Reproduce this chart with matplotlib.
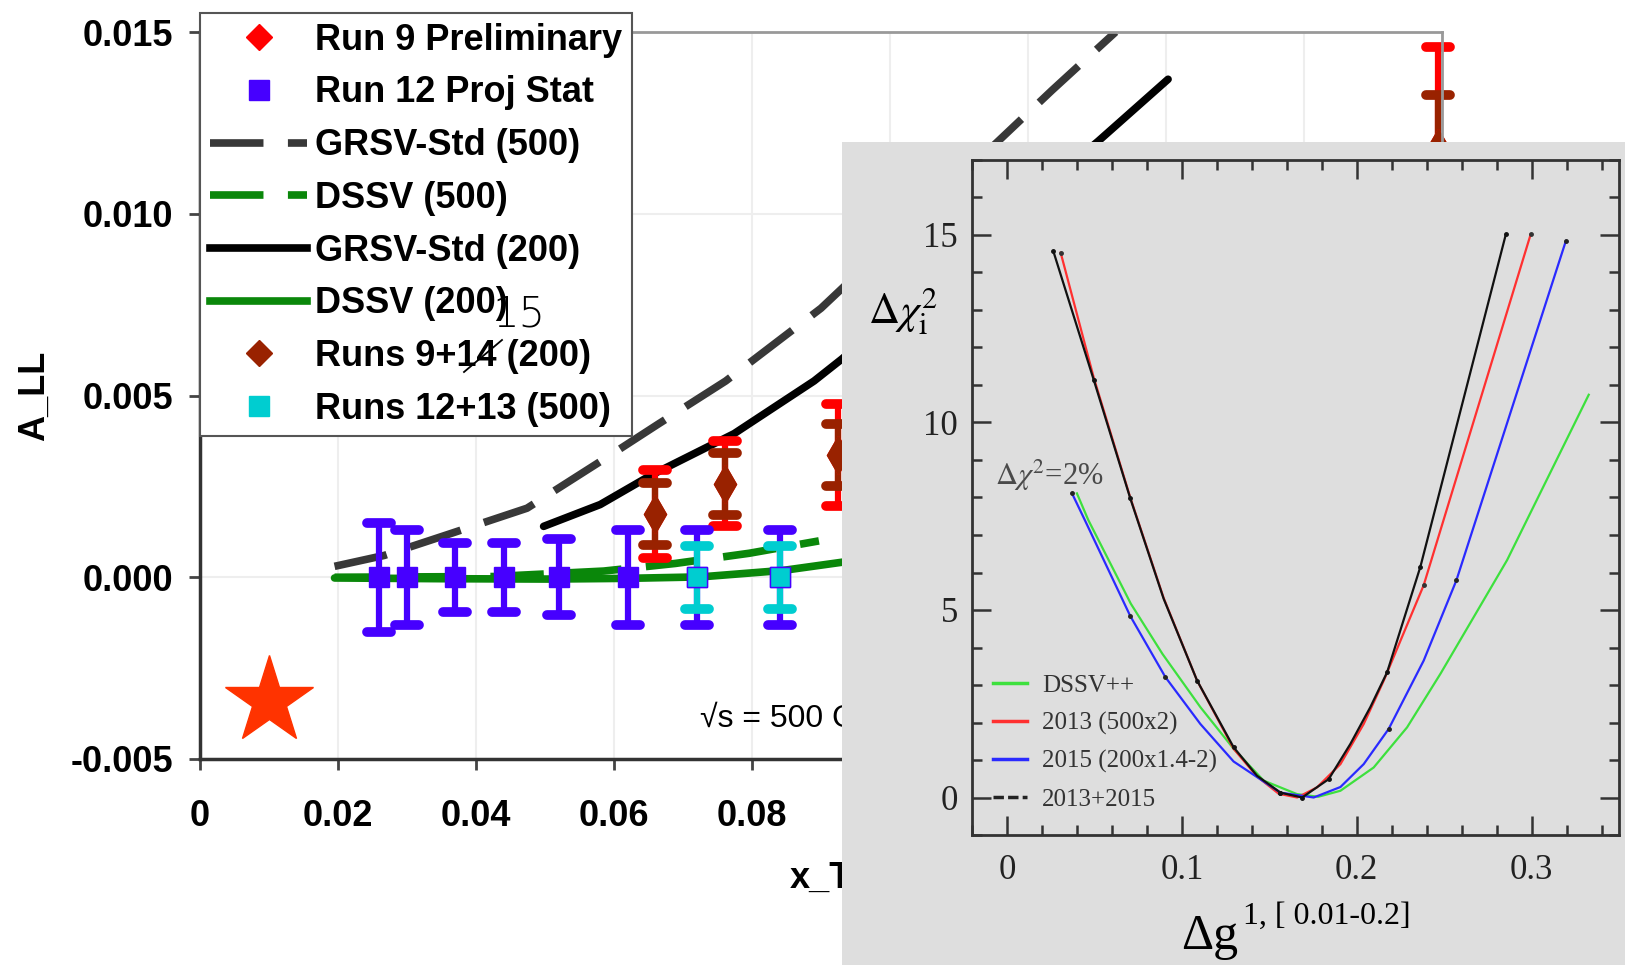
import matplotlib.pyplot as plt
from matplotlib.lines import Line2D
from matplotlib.markers import MarkerStyle
from matplotlib.patches import Rectangle
from matplotlib.ticker import MultipleLocator

plt.rcParams['axes.unicode_minus'] = False
plt.rcParams['mathtext.fontset'] = 'stix'

# ---- main panel: A_LL vs x_T ----
run12_x = [0.026, 0.030, 0.037, 0.044, 0.052, 0.062, 0.072, 0.084]
run12_y = [0, 0, 0, 0, 0, 0, 0, 0]
run12_err = [0.0015, 0.0013, 0.00095, 0.00095, 0.00105, 0.0013, 0.0013, 0.0013]

run1213_x = [0.072, 0.084]
run1213_y = [0, 0]
run1213_err = [0.00087, 0.00087]

run9_x = [0.0659, 0.0761, 0.0925, 0.1794]
run9_y = [0.00174, 0.00257, 0.00336, 0.0118]
run9_err = [0.0012, 0.00117, 0.0014, 0.0028]
run914_err = [0.00085, 0.00086, 0.00085, 0.00146]

grsv500_x = [0.0195, 0.0267, 0.0363, 0.0474, 0.0598, 0.0663, 0.0762, 0.090, 0.1157, 0.1235, 0.1327]
grsv500_y = [0.0003, 0.0006, 0.0012, 0.0019, 0.0034, 0.0042, 0.0054, 0.0074, 0.0120, 0.0134, 0.0150]
grsv200_x = [0.0498, 0.058, 0.0653, 0.0774, 0.089, 0.093, 0.1302, 0.1403]
grsv200_y = [0.0014, 0.0020, 0.0028, 0.00395, 0.0054, 0.0060, 0.0120, 0.0137]
dssv500_x = [0.0195, 0.0426, 0.0585, 0.0689, 0.0796, 0.0897]
dssv500_y = [0.0, 0.00002, 0.00017, 0.00038, 0.00066, 0.0010]
dssv200_x = [0.0195, 0.035, 0.0506, 0.062, 0.0726, 0.0846, 0.0933]
dssv200_y = [-0.00002, -0.00004, -0.00005, -0.00003, 0.00001, 0.00019, 0.00042]

xtick_vals = [0, 0.02, 0.04, 0.06, 0.08, 0.10, 0.12, 0.14, 0.16, 0.18]
xtick_labels = ['0', '0.02', '0.04', '0.06', '0.08', '0.10', '0.12', '0.14', '0.16', '0.18']
ytick_vals = [-0.005, 0.0, 0.005, 0.010, 0.015]
ytick_labels = ['-0.005', '0.000', '0.005', '0.010', '0.015']

# ---- inset: delta chi2 vs delta g ----
dssvpp_x = [0.0400, 0.0465, 0.0708, 0.0889, 0.1106, 0.1296, 0.1468, 0.1659, 0.178, 0.1907,
            0.2097, 0.2288, 0.2479, 0.2669, 0.286, 0.3327]
dssvpp_y = [8.11, 7.40, 5.17, 3.83, 2.41, 1.30, 0.45, 0.09, 0.02, 0.18,
            0.80, 1.87, 3.30, 4.81, 6.33, 10.74]
y2013_x = [0.0307, 0.0496, 0.0705, 0.0896, 0.1087, 0.1296, 0.143, 0.1554, 0.166, 0.1773,
           0.1907, 0.204, 0.2155, 0.2383, 0.2995]
y2013_y = [14.53, 11.2, 8.0, 5.32, 3.12, 1.30, 0.56, 0.10, 0.0, 0.27,
           0.89, 1.96, 3.12, 5.66, 15.02]
y2015_x = [0.0372, 0.0445, 0.0705, 0.0906, 0.1106, 0.1296, 0.1564, 0.1754, 0.1907, 0.204,
           0.2183, 0.2383, 0.257, 0.3196]
y2015_y = [8.11, 7.40, 4.84, 3.21, 1.96, 0.96, 0.13, 0.0, 0.28, 0.89,
           1.83, 3.65, 5.79, 14.84]
comb_x = [0.0265, 0.0496, 0.0705, 0.0896, 0.1087, 0.1296, 0.143, 0.1564, 0.1688, 0.184,
          0.1964, 0.2078, 0.2174, 0.2364, 0.2853]
comb_y = [14.57, 11.14, 7.98, 5.30, 3.12, 1.34, 0.58, 0.13, 0.0, 0.49,
          1.43, 2.41, 3.34, 6.15, 15.02]

W, H = 1625, 965


def box(x0, y0, x1, y1):
    return [x0 / W, 1 - y1 / H, (x1 - x0) / W, (y1 - y0) / H]


fig = plt.figure(figsize=(16.25, 9.65), dpi=100)
sans = ['Liberation Sans', 'DejaVu Sans']
serif = ['Liberation Serif', 'DejaVu Serif']

ax = fig.add_axes(box(200, 32, 1442, 759))
ax.set_xlim(0, 0.18)
ax.set_ylim(-0.005, 0.015)
ax.set_xticks(xtick_vals, xtick_labels, fontsize=26, fontweight='bold', family=sans)
ax.set_yticks(ytick_vals, ytick_labels, fontsize=26, fontweight='bold', family=sans)
ax.tick_params(axis='x', direction='out', length=8, width=2, color='#444', pad=21)
ax.tick_params(axis='y', direction='out', length=8, width=2, color='#444', pad=11)
ax.grid(color='#eeeeee', lw=1.5)
ax.set_axisbelow(True)
for s in ['left', 'bottom']:
    ax.spines[s].set_color('#333')
    ax.spines[s].set_linewidth(2.5)
for s in ['top', 'right']:
    ax.spines[s].set_color('#999')
    ax.spines[s].set_linewidth(2)
ax.set_xlabel('x_T', fontsize=26, fontweight='bold', family=sans, labelpad=19)
ax.set_ylabel('A_LL', fontsize=26, fontweight='bold', family=sans, labelpad=14)

blue, cyan, red, brown, green = '#4600ff', '#00cdd0', '#ff0000', '#992200', '#0a870a'
dash = (0, (7, 3.2))
ax.plot(grsv500_x, grsv500_y, color='#383838', lw=5.5, ls=dash)
ax.plot(grsv200_x, grsv200_y, color='black', lw=5.5, solid_capstyle='round')
ax.plot(dssv500_x, dssv500_y, color=green, lw=5.5, ls=dash)
ax.plot(dssv200_x, dssv200_y, color=green, lw=5.5, solid_capstyle='round')

cap = MarkerStyle('_', capstyle='round')


def bars(x, y, e, col, mk, ms, mec=None):
    c = ax.errorbar(x, y, yerr=e, fmt=mk, color=col, ms=ms, mec=mec or col,
                    elinewidth=4.5, capsize=8.5, capthick=7, clip_on=False)
    for cl in c[1]:
        cl.set_marker(cap)
    return c


bars(run9_x, run9_y, run9_err, red, 'd', 19)
bars(run9_x, run9_y, run914_err, brown, 'd', 19)
bars(run12_x, run12_y, run12_err, blue, 's', 14.5)
bars(run1213_x, run1213_y, run1213_err, cyan, 's', 14.5, mec=blue)

ax.plot(0.01, -0.0034, marker='*', ms=66, color='#ff3300', mec='#ff3300')
ax.text(0.0725, -0.0039, '√s = 500 GeV', fontsize=23, family=sans, va='center')

handles = [
    Line2D([], [], ls='none', marker='D', ms=13, color=red),
    Line2D([], [], ls='none', marker='s', ms=14, color=blue),
    Line2D([], [], color='#383838', lw=5.5, ls=dash),
    Line2D([], [], color=green, lw=5.5, ls=dash),
    Line2D([], [], color='black', lw=5.5),
    Line2D([], [], color=green, lw=5.5),
    Line2D([], [], ls='none', marker='D', ms=13, color=brown),
    Line2D([], [], ls='none', marker='s', ms=14, color=cyan),
]
labels = ['Run 9 Preliminary', 'Run 12 Proj Stat', 'GRSV-Std (500)', 'DSSV (500)',
          'GRSV-Std (200)', 'DSSV (200)', 'Runs 9+14 (200)', 'Runs 12+13 (500)']
leg = ax.legend(handles, labels, loc='upper left', bbox_to_anchor=(200 / W, 1 - 13 / H),
                bbox_transform=fig.transFigure, borderaxespad=0, borderpad=0.27,
                labelspacing=0.49, handlelength=2.7, handletextpad=0.22, fancybox=False,
                framealpha=1, edgecolor='#555',
                prop={'family': sans, 'weight': 'bold', 'size': 26})
leg.get_frame().set_linewidth(1.5)

# hand correction 14 -> 15
fig.add_artist(Line2D([464 / W, 502 / W], [1 - 372 / H, 1 - 340 / H], color='black', lw=1.3))
fig.text(519 / W, 1 - 314 / H, '15', fontsize=30, family=['DejaVu Sans'],
         fontweight=200, ha='center', va='center')

# ---- inset ----
fig.add_artist(Rectangle((842 / W, 0), 1 - 842 / W, 1 - 142 / H, transform=fig.transFigure,
                         facecolor='#dedede', edgecolor='none', zorder=5))
ax2 = fig.add_axes(box(972, 160, 1619, 835))
ax2.set_zorder(6)
ax2.set_facecolor('#dedede')
ax2.set_xlim(-0.02, 0.35)
ax2.set_ylim(-1, 17)
ax2.xaxis.set_major_locator(MultipleLocator(0.1))
ax2.xaxis.set_minor_locator(MultipleLocator(0.02))
ax2.yaxis.set_major_locator(MultipleLocator(5))
ax2.yaxis.set_minor_locator(MultipleLocator(1))
ax2.xaxis.set_major_formatter(lambda v, p: f'{v:g}' if abs(v) > 1e-9 else '0')
ax2.yaxis.set_major_formatter(lambda v, p: f'{v:g}')
ax2.tick_params(which='both', direction='in', top=True, right=True, color='#333', width=1.8,
                labelcolor='#222', labelsize=25, labelfontfamily='Liberation Serif')
ax2.tick_params(which='major', length=14)
ax2.tick_params(which='minor', length=7)
ax2.tick_params(axis='x', pad=14)
ax2.tick_params(axis='y', pad=10)
for s in ax2.spines.values():
    s.set_color('#333')
    s.set_linewidth(2)

ax2.plot(dssvpp_x, dssvpp_y, color='#3de03d', lw=1.6)
ax2.plot(y2013_x, y2013_y, color='#ff3030', lw=1.6, marker='o', ms=2.5, mfc='#333', mec='#333',
         markevery=[0, 13, 14])
ax2.plot(y2015_x, y2015_y, color='#2a2aff', lw=1.6, marker='o', ms=2.5, mec='#222', mfc='#222',
         markevery=[0, 2, 3, 6, 10, 12, 13])
ax2.plot(comb_x, comb_y, color='#111', lw=1.6, marker='o', ms=2.5,
         markevery=[0, 1, 2, 4, 5, 7, 8, 9, 12, 13, 14])
ax2.legend(handles=[Line2D([], [], color='#3de03d', lw=2.5),
                    Line2D([], [], color='#ff3030', lw=2.5),
                    Line2D([], [], color='#2a2aff', lw=2.5),
                    Line2D([], [], color='#222', lw=2.5, ls=(0, (3, 1.2)))],
           labels=['DSSV++', '2013 (500x2)', '2015 (200x1.4-2)', '2013+2015'],
           loc='lower left', bbox_to_anchor=(0.032, 0.036), frameon=False,
           prop={'family': serif, 'size': 18}, handlelength=1.36, handletextpad=0.62,
           labelspacing=0.6, borderaxespad=0, borderpad=0)
for t in ax2.get_legend().get_texts():
    t.set_color('#333')

ax2.text(-0.0067, 8.6, r'$\Delta\chi^2$=2%', fontsize=22, family=serif, color='#4a4a4a',
         va='center', ha='left')

fig.text(903 / W, 1 - 311 / H, r'$\Delta\chi^2_{\rm i}$', fontsize=31, ha='center',
         va='center', zorder=7)
fig.text(1181 / W, 1 - 949 / H, 'Δg', fontsize=36, family=serif, ha='left',
         va='baseline', zorder=7)
fig.text(1243 / W, 1 - 924 / H, '1, [ 0.01-0.2]', fontsize=23, family=serif, ha='left',
         va='baseline', zorder=7)

fig.savefig('out.png', dpi=100)
